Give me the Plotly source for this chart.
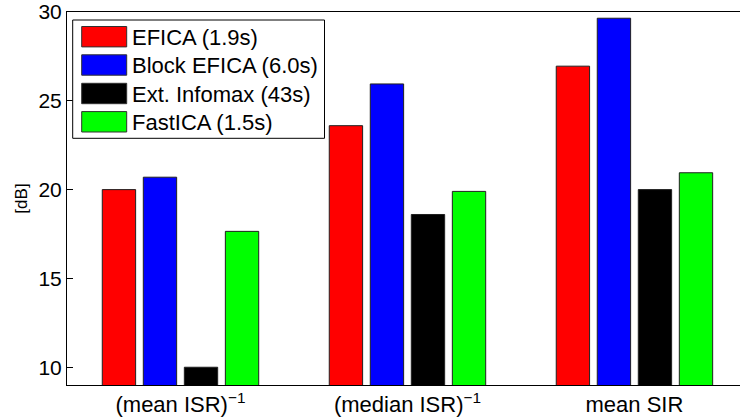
import plotly.graph_objects as go

categories = ["(mean ISR)<sup>\u22121</sup>", "(median ISR)<sup>\u22121</sup>", "mean SIR"]
series_names = ["EFICA (1.9s)", "Block EFICA (6.0s)", "Ext. Infomax (43s)", "FastICA (1.5s)"]
efica = [20.0, 23.6, 26.95]
block_efica = [20.7, 25.95, 29.65]
ext_infomax = [10.0, 18.6, 20.0]
fastica = [17.65, 19.9, 20.95]
colors = ["#ff0000", "#0000ff", "#000000", "#00ff00"]
y_ticks = [10, 15, 20, 25, 30]

W, H = 740, 417
ML, MR, MT, MB = 67, 0, 12, 32
PW, PH = W - ML - MR, H - MT - MB

def px(x):
    return (x - ML) / PW

def py(y):
    return (H - MB - y) / PH

FONT = "Liberation Sans, Arial, Helvetica, sans-serif"

fig = go.Figure()
for name, vals, col in zip(series_names, [efica, block_efica, ext_infomax, fastica], colors):
    fig.add_trace(go.Bar(
        x=categories, y=vals, name=name, showlegend=False, hoverinfo="skip",
        marker=dict(color=col, line=dict(color="#202020", width=1)),
    ))

# custom legend (large rectangular swatches like the reference)
shapes = [dict(type="rect", xref="paper", yref="paper",
               x0=px(72.7), x1=px(324.5), y0=py(138.3), y1=py(20),
               line=dict(color="black", width=1), fillcolor="white", layer="above")]
annotations = []
row_centers = [36.7, 65.0, 93.5, 121.8]
for name, col, rc in zip(series_names, colors, row_centers):
    shapes.append(dict(type="rect", xref="paper", yref="paper",
                       x0=px(81.7), x1=px(126.7), y0=py(rc + 10.2), y1=py(rc - 10.2),
                       line=dict(color="#303030", width=1), fillcolor=col, layer="above"))
    annotations.append(dict(xref="paper", yref="paper", x=px(129.5), y=py(rc + 0.5),
                            xanchor="left", yanchor="middle", text=name, showarrow=False,
                            font=dict(family=FONT, size=22, color="black")))

fig.update_layout(
    width=W, height=H,
    margin=dict(l=ML, r=MR, t=MT, b=MB, autoexpand=False),
    paper_bgcolor="white", plot_bgcolor="white",
    barmode="group", bargap=0.277, bargroupgap=0.187,
    font=dict(family=FONT, size=21, color="black"),
    shapes=shapes, annotations=annotations,
    xaxis=dict(type="category", range=[-0.5, 2.465], showline=True, linecolor="black",
               linewidth=1, mirror=True, ticks="", showgrid=False, zeroline=False,
               automargin=False, fixedrange=True,
               tickfont=dict(family=FONT, size=22, color="black")),
    yaxis=dict(range=[9, 30], tickvals=y_ticks, showline=True, linecolor="black",
               linewidth=1, ticks="inside", ticklen=6, tickcolor="black",
               showgrid=False, zeroline=False, automargin=False, fixedrange=True,
               tickfont=dict(family=FONT, size=21, color="black"),
               title=dict(text="[dB]", standoff=6, font=dict(family=FONT, size=17, color="black"))),
)

fig.write_html("out.html", config={"displayModeBar": False},
               post_script="document.body.style.margin='0';document.body.style.overflow='hidden';")
